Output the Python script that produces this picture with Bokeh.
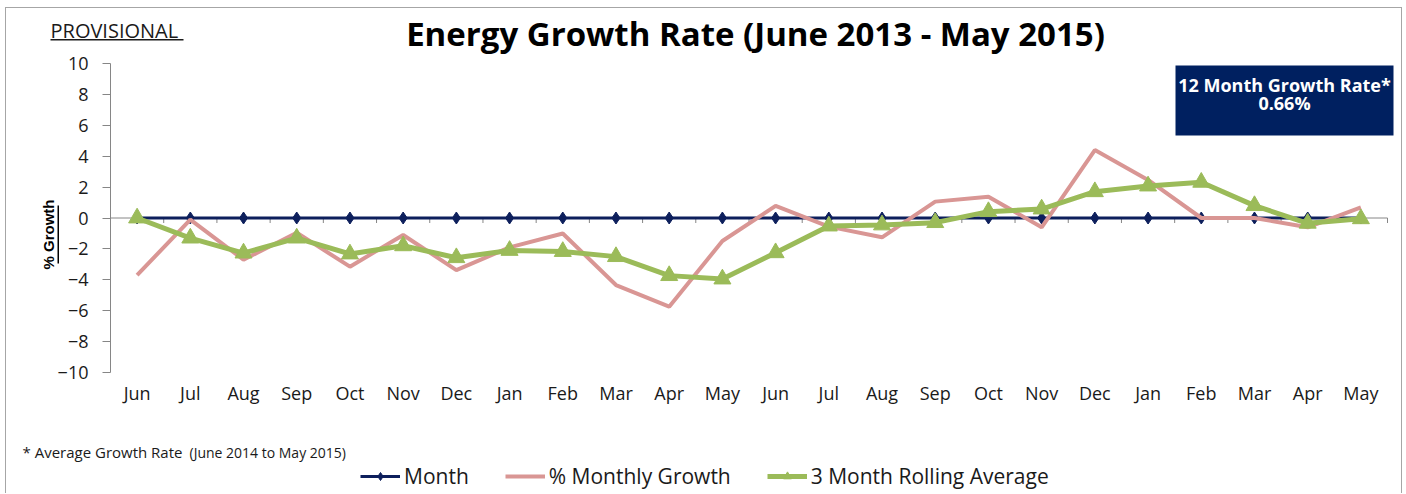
import math
from bokeh.plotting import figure
from bokeh.models import (Label, BoxAnnotation, FixedTicker, Legend, LegendItem,
                          ColumnDataSource, Range1d)
from bokeh.embed import file_html
from bokeh.resources import INLINE

# ---------------- data ----------------
months = ["Jun", "Jul", "Aug", "Sep", "Oct", "Nov", "Dec", "Jan", "Feb", "Mar", "Apr", "May",
          "Jun", "Jul", "Aug", "Sep", "Oct", "Nov", "Dec", "Jan", "Feb", "Mar", "Apr", "May"]
month_line = [0] * 24
monthly_growth = [-3.7, -0.1, -2.7, -0.95, -3.15, -1.1, -3.37, -1.9, -1.0, -4.34, -5.74, -1.49,
                  0.78, -0.56, -1.25, 1.06, 1.38, -0.6, 4.4, 2.46, 0.0, 0.0, -0.6, 0.69]
rolling_avg = [0.0, -1.3, -2.27, -1.3, -2.33, -1.8, -2.57, -2.1, -2.17, -2.5, -3.73, -3.95,
               -2.25, -0.52, -0.45, -0.3, 0.41, 0.58, 1.7, 2.07, 2.31, 0.8, -0.34, -0.05]
y_ticks = [-10, -8, -6, -4, -2, 0, 2, 4, 6, 8, 10]
series_names = ["Month", "% Monthly Growth", "3 Month Rolling Average"]
title_text = "Energy Growth Rate (June 2013 - May 2015)"
status_text = "PROVISIONAL"
y_label = "% Growth"
growth_rate_label = "12 Month Growth Rate*"
growth_rate_12m = "0.66%"
footnote_main = "* Average  Growth  Rate"
footnote_period = "(June 2014 to  May 2015)"

idx = list(range(len(months)))
src = ColumnDataSource(dict(x=idx, month=month_line, growth=monthly_growth, roll=rolling_avg))

NAVY = "#0d1f5c"
PINK = "#d99694"
GREEN = "#9bbb59"
GRAY = "#868686"
TXT = "#1a1a1a"

# ---------------- geometry (page pixels -> data) ----------------
W, H = 1397, 486
OX, OY = 6, 8                 # canvas origin on the page
PL, PB, PT = 110, 372, 63     # plot-area left / bottom (-10) / top (+10) on the page
XS = 1277 / len(months)       # px per category
YS = (PB - PT) / 20.0         # px per unit


def dx(px):
    return -0.5 + (px - PL) / XS


def dy(py):
    return 10 - (py - PT) / YS


p = figure(width=W, height=H, x_range=Range1d(dx(OX), dx(OX + W)),
           y_range=Range1d(dy(OY + H), dy(OY)),
           output_backend="svg", toolbar_location=None, min_border=0)
p.styles = {"border": "1px solid #a6a6a6", "border-bottom": "none", "margin": "7px 0 0 5px"}
p.outline_line_color = None
p.xgrid.visible = False
p.ygrid.visible = False

# ---- x axis (category labels under the plot area)
xa = p.xaxis[0]
xa.fixed_location = -10
xa.bounds = (-0.5, len(months) - 0.5)
xa.ticker = FixedTicker(ticks=idx)
xa.major_label_overrides = {i: m for i, m in enumerate(months)}
xa.axis_line_color = None
xa.major_tick_line_color = None
xa.minor_tick_line_color = None
xa.major_tick_out = 0
xa.major_label_standoff = 8
xa.major_label_text_font = "Open Sans"
xa.major_label_text_font_size = "18px"
xa.major_label_text_color = TXT

# ---- y axis
ya = p.yaxis[0]
ya.fixed_location = -0.5
ya.bounds = (-10, 10)
ya.ticker = FixedTicker(ticks=y_ticks)
ya.axis_line_color = GRAY
ya.major_tick_line_color = GRAY
ya.major_tick_out = 8
ya.major_tick_in = 0
ya.minor_tick_line_color = None
ya.major_label_standoff = 14
ya.major_label_text_font = "Open Sans"
ya.major_label_text_font_size = "18px"
ya.major_label_text_color = TXT

# ---- category axis crossing at zero, with tick marks between categories
bounds = [i - 0.5 for i in range(len(months) + 1)]
p.segment(x0=[bounds[0]], y0=[0], x1=[bounds[-1]], y1=[0], line_color=GRAY, line_width=1)
p.segment(x0=bounds, y0=[0] * len(bounds), x1=bounds, y1=[-5 / YS] * len(bounds),
          line_color=GRAY, line_width=1)

# ---- series
r1 = p.line("x", "month", source=src, line_color=NAVY, line_width=3)
r1m = p.scatter("x", "month", source=src, marker="diamond", size=12, fill_color=NAVY, line_color=NAVY)
r2 = p.line("x", "growth", source=src, line_color=PINK, line_width=4)
r3 = p.line("x", "roll", source=src, line_color=GREEN, line_width=5)
r3m = p.scatter("x", "roll", source=src, marker="triangle", size=17, fill_color=GREEN, line_color=GREEN)

# ---- texts
p.add_layout(Label(x=dx(755), y=dy(33), text=title_text, text_align="center",
                   text_baseline="middle", text_font="Open Sans", text_font_style="bold",
                   text_font_size="33px", text_color="black"))
p.add_layout(Label(x=dx(50), y=dy(30), text=status_text, text_align="left",
                   text_baseline="middle", text_font="Open Sans", text_font_size="20px",
                   text_color=TXT))
p.add_layout(BoxAnnotation(left=dx(50), right=dx(183), top=dy(38.5), bottom=dy(40),
                           fill_color=TXT, fill_alpha=1, line_color=None))

p.add_layout(Label(x=dx(48), y=dy(234), text=y_label, angle=math.pi / 2, text_align="center",
                   text_baseline="middle", text_font="Liberation Sans", text_font_style="bold",
                   text_font_size="15px", text_color="black"))
p.add_layout(BoxAnnotation(left=dx(57), right=dx(58.5), top=dy(205), bottom=dy(263),
                           fill_color="black", fill_alpha=1, line_color=None))

p.add_layout(Label(x=dx(22), y=dy(451), text=footnote_main, text_align="left",
                   text_baseline="middle", text_font="Open Sans", text_font_size="15px",
                   text_color=TXT))
p.add_layout(Label(x=dx(189), y=dy(452), text=footnote_period, text_align="left",
                   text_baseline="middle", text_font="Open Sans", text_font_size="14px",
                   text_color=TXT))

# ---- 12 month growth box
p.add_layout(BoxAnnotation(left=dx(1175), right=dx(1393), top=dy(65), bottom=dy(135),
                           fill_color="#002060", fill_alpha=1, line_color=None))
p.add_layout(Label(x=dx(1284), y=dy(84), text=growth_rate_label, text_align="center",
                   text_baseline="middle", text_font="Open Sans", text_font_style="bold",
                   text_font_size="18px", text_color="white"))
p.add_layout(Label(x=dx(1284), y=dy(102), text=growth_rate_12m, text_align="center",
                   text_baseline="middle", text_font="Open Sans", text_font_style="bold",
                   text_font_size="18px", text_color="white"))

# ---- legend
legend = Legend(items=[LegendItem(label=series_names[0], renderers=[r1, r1m]),
                       LegendItem(label=series_names[1], renderers=[r2]),
                       LegendItem(label=series_names[2], renderers=[r3, r3m])],
                orientation="horizontal", location=(360 - OX, 4))
legend.label_text_font = "Open Sans"
legend.label_text_font_size = "21px"
legend.label_text_color = TXT
legend.glyph_width = 40
legend.glyph_height = 20
legend.label_standoff = 4
legend.spacing = 36
legend.padding = 0
legend.margin = 0
legend.border_line_color = None
legend.background_fill_alpha = 0
p.add_layout(legend)

open("out.html", "w").write(file_html(p, INLINE))
